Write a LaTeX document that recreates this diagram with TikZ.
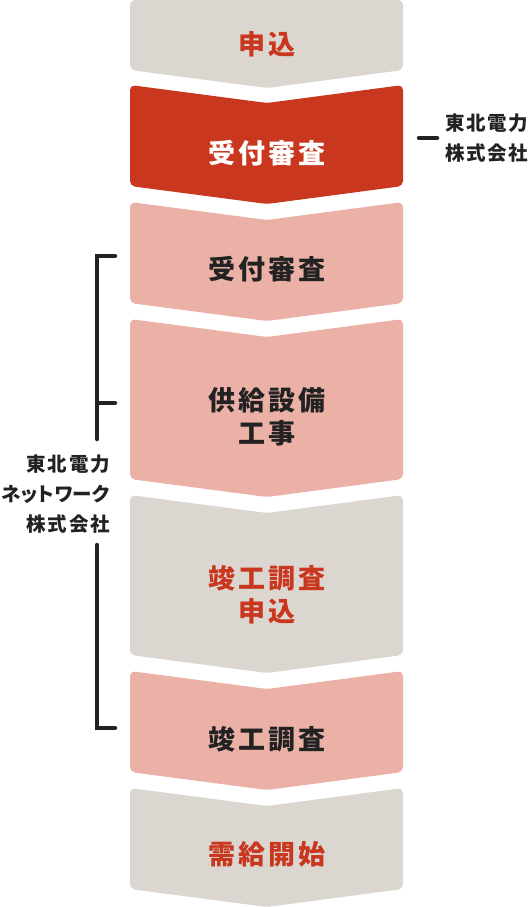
\documentclass[tikz,border=0pt]{standalone}
\usepackage{fontspec}
\newfontfamily\jpfont[LetterSpace=10]{Noto Sans CJK JP}
\newfontfamily\jpside[LetterSpace=9]{Noto Sans CJK JP}
\newfontfamily\jpkana[RawFeature=+palt, LetterSpace=2]{Noto Sans CJK JP}
\usetikzlibrary{positioning, calc}
\definecolor{StepGray}{HTML}{DCD6D1}
\definecolor{StepRed}{HTML}{C8371E}
\definecolor{StepPink}{HTML}{EBB1A6}
\definecolor{InkDark}{HTML}{222222}

\begin{document}
\begin{tikzpicture}[x=1pt, y=-1pt,
    steptext/.style={font=\jpfont\bfseries\fontsize{27}{33}\selectfont, align=center},
    sidetext/.style={font=\jpside\bfseries\fontsize{19.5}{30}\selectfont, text=InkDark, inner sep=0pt},
    bracket/.style={line width=4.5pt, color=InkDark, line cap=round}]
    \useasboundingbox (0,0) rectangle (532,907);

    % first step has a flat top
    \fill[StepGray, rounded corners=5pt] (130,0) -- (403,0) -- (403,70) -- (267,88) -- (130,70) -- cycle;
    % notched steps: top corner / bottom corner / fill
    \foreach \ya/\yb/\col in {85/186/StepRed, 202/303/StepPink, 319/479/StepPink, 495/655/StepGray, 671/772/StepPink, 788/889/StepGray}
        \fill[\col, rounded corners=5pt] (130,\ya) -- (267,\ya+18) -- (403,\ya) -- (403,\yb) -- (267,\yb+18) -- (130,\yb) -- cycle;

    \node[steptext, text=StepRed] (apply) at (267,44) {申込};
    \node[steptext, text=white] (review) at (267,153) {受付審査};
    \node[steptext, text=InkDark] (reviewNW) at (267,269) {受付審査};
    \node[steptext, text=InkDark] (works) at (267,417) {供給設備\\工事};
    \node[steptext, text=StepRed] (inspApply) at (267,595) {竣工調査\\申込};
    \node[steptext, text=InkDark] (inspect) at (267,739) {竣工調査};
    \node[steptext, text=StepRed] (supply) at (267,854) {需給開始};

    % companies in charge
    \node[sidetext, align=left, anchor=west] (tohoku) at (445,138) {東北電力\\株式会社};
    \node[sidetext, align=right, anchor=east] (network) at (110,494) {東北電力\\{\jpkana ネットワーク}\\株式会社};

    \coordinate (dashR) at ([xshift=-8pt]tohoku.west);
    \coordinate (dashL) at ([xshift=-18pt]dashR);
    \draw[bracket] (dashR) -- (dashL);

    \coordinate (upTop) at (115,256);
    \coordinate (upMid) at (115,403);
    \coordinate (upEnd) at (97,439);
    \coordinate (lowTop) at (97,545);
    \coordinate (lowEnd) at (115,728);
    \draw[bracket] (upTop) -- (upTop -| upEnd) -- (upEnd);
    \draw[bracket] (upMid -| upEnd) -- (upMid);
    \draw[bracket] (lowTop) -- (lowTop |- lowEnd) -- (lowEnd);
\end{tikzpicture}
\end{document}
